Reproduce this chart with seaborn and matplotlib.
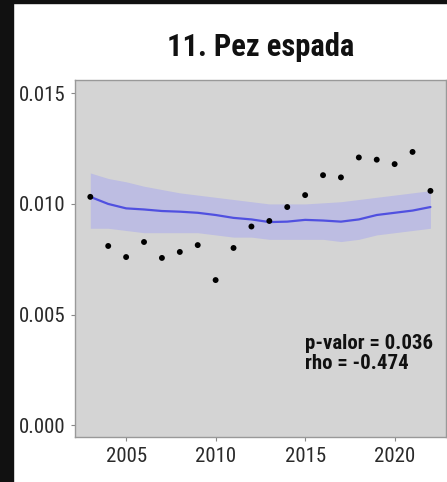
import numpy as np
import pandas as pd
import matplotlib
matplotlib.use("Agg")
import matplotlib.pyplot as plt
from matplotlib.patches import Rectangle
import seaborn as sns

# observed values per year
years = list(range(2003, 2023))
values = [0.01032, 0.0081, 0.0076, 0.00828, 0.00756, 0.00783, 0.00814, 0.00656,
          0.00801, 0.00898, 0.00923, 0.00986, 0.0104, 0.0113, 0.0112, 0.0121,
          0.0120, 0.0118, 0.01235, 0.01059]

# smooth trend and its band
trend = [0.01032, 0.0100, 0.0098, 0.00975, 0.00968, 0.00965, 0.0096, 0.0095,
         0.00937, 0.0093, 0.00918, 0.0092, 0.00928, 0.00925, 0.0092, 0.0093,
         0.0095, 0.0096, 0.0097, 0.00986]
band_hi = [0.0114, 0.01115, 0.0110, 0.0108, 0.01065, 0.0105, 0.0104, 0.0103,
           0.0102, 0.0101, 0.0100, 0.0100, 0.0100, 0.01005, 0.0101, 0.0102,
           0.0103, 0.0104, 0.0105, 0.0106]
band_lo = [0.0089, 0.0089, 0.0088, 0.0087, 0.0087, 0.0087, 0.0087, 0.0086,
           0.0085, 0.0085, 0.0084, 0.0084, 0.0084, 0.0084, 0.0083, 0.0084,
           0.0086, 0.0087, 0.0088, 0.0089]

title = "11. Pez espada"
stats_text = "p-valor = 0.036\nrho = -0.474"
x_ticks = [2005, 2010, 2015, 2020]
y_ticks = [0.000, 0.005, 0.010, 0.015]

df = pd.DataFrame({"year": years, "value": values, "trend": trend,
                   "lo": band_lo, "hi": band_hi})

sns.set_style("white")
plt.rcParams["font.family"] = ["Roboto Condensed", "Archivo Narrow", "DejaVu Sans"]

fig = plt.figure(figsize=(4.47, 4.82), dpi=100)
fig.patch.set_facecolor("white")
# dark frame on the left and top edges
fig.patches.append(Rectangle((0, 0), 13 / 447, 1, transform=fig.transFigure,
                             color="#111111", zorder=0))
fig.patches.append(Rectangle((0, 1 - 3 / 482), 1, 3 / 482, transform=fig.transFigure,
                             color="#111111", zorder=0))

ax = fig.add_axes([0.168, 0.093, 0.829, 0.741])
ax.set_facecolor("#d4d4d4")

ax.fill_between(df["year"], df["lo"], df["hi"], color="#bdbde2",
                linewidth=0, zorder=1)
sns.lineplot(data=df, x="year", y="trend", color="#5050e0", linewidth=1.6,
             ax=ax, zorder=2)
sns.scatterplot(data=df, x="year", y="value", color="black", s=18,
                edgecolor="none", ax=ax, zorder=3)

ax.set_xlim(2002.15, 2022.85)
ax.set_ylim(-0.00054, 0.0156)
ax.set_xticks(x_ticks)
ax.set_yticks(y_ticks)
ax.set_yticklabels([f"{v:.3f}" for v in y_ticks])
ax.set_xlabel("")
ax.set_ylabel("")
ax.tick_params(axis="both", which="both", length=3, width=0.8, color="#888888",
               labelsize=15, labelcolor="#2a2a2a", pad=4, left=True, bottom=True)
for s in ax.spines.values():
    s.set_color("#999999")
    s.set_linewidth(1.0)

ax.text(0.62, 0.29, stats_text, transform=ax.transAxes, fontsize=15,
        fontweight="bold", color="#111111", va="top", ha="left", linespacing=1.1)

fig.text(0.582, 0.902, title, fontsize=22, fontweight="bold", ha="center",
         va="center", color="#111111")

fig.savefig("out.png", dpi=100)
